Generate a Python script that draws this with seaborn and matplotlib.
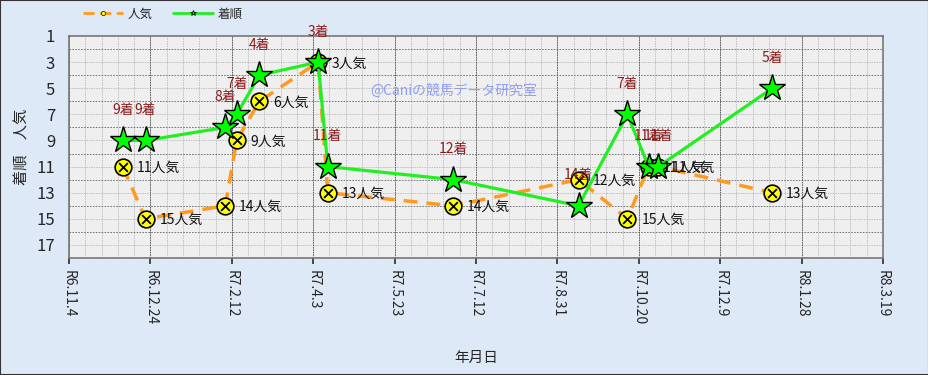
import matplotlib
matplotlib.use("Agg")
import matplotlib.pyplot as plt
import matplotlib.dates as mdates
from matplotlib.lines import Line2D
from matplotlib.patches import Rectangle
from matplotlib.ticker import FuncFormatter, FixedLocator
import seaborn as sns
import pandas as pd

# ---- data ----
race_dates = ["2024-12-07", "2024-12-21", "2025-02-08", "2025-02-15", "2025-03-01",
              "2025-04-06", "2025-04-12", "2025-06-28", "2025-09-13", "2025-10-13",
              "2025-10-26", "2025-11-01", "2026-01-10"]
chakujun = [9, 9, 8, 7, 4, 3, 11, 12, 14, 7, 11, 11, 5]   # 着順
ninki = [11, 15, 14, 9, 6, 3, 13, 14, 12, 15, 11, 11, 13]  # 人気
x_start = "2024-11-04"
x_end = "2026-03-19"

df = pd.DataFrame({"date": pd.to_datetime(race_dates), "chaku": chakujun, "ninki": ninki})

sns.set_theme(style="white")
plt.rcParams["font.family"] = ["Noto Sans CJK JP", "DejaVu Sans"]

fig = plt.figure(figsize=(9.29, 3.75), dpi=100, facecolor="#dde9f7")
ax = fig.add_axes([69 / 929, 1 - 258 / 375, (883 - 69) / 929, (258 - 36) / 375])
ax.set_facecolor("#efefef")

# grid
minor_ticks = pd.date_range(x_start, x_end, freq="10D")
major_ticks = pd.date_range(x_start, x_end, freq="50D")
for d in minor_ticks:
    ax.axvline(d, color="#ababab", lw=0.5, ls=(0, (2, 1.5)), zorder=0.5)
for d in major_ticks:
    ax.axvline(d, color="#555555", lw=0.6, ls=(0, (2, 1)), zorder=0.6)
for v in range(2, 18):
    even = v % 2 == 0
    ax.axhline(v, color="#666666" if even else "#ababab", lw=0.6 if even else 0.5,
               ls=(0, (2, 1.5)), zorder=0.5)

orange = "#ff9a1f"
green = "#22ee22"

# 人気 series
sns.lineplot(data=df, x="date", y="ninki", ax=ax, color=orange, lw=2.5, sort=False,
             marker="o", markersize=12, markerfacecolor="#ffff00", markeredgecolor="black",
             markeredgewidth=1.2, zorder=3)
ax.lines[-1].set_linestyle((0, (4, 2.6)))
sns.scatterplot(data=df, x="date", y="ninki", ax=ax, marker="x", s=40, color="black",
                linewidth=1.3, zorder=4)

# 着順 series
sns.lineplot(data=df, x="date", y="chaku", ax=ax, color=green, lw=2.3, sort=False,
             marker="*", markersize=20, markerfacecolor="#00ff00", markeredgecolor="black",
             markeredgewidth=1.0, zorder=5)

# labels
for d, c, n in zip(df["date"], df["chaku"], df["ninki"]):
    ax.annotate(f"{c}着", (d, c), xytext=(0, 22), textcoords="offset points",
                ha="center", va="center", fontsize=10, color="#8b1a1a", zorder=6)
    ax.annotate(f"{n}人気", (d, n), xytext=(10, -1), textcoords="offset points",
                ha="left", va="center", fontsize=10, color="#111111", zorder=6)

ax.set_xlim(pd.Timestamp(x_start), pd.Timestamp(x_end))
ax.set_ylim(18, 1)
ax.yaxis.set_major_locator(FixedLocator(list(range(1, 18, 2))))
ax.xaxis.set_major_locator(FixedLocator(mdates.date2num(major_ticks)))


def reiwa(v, pos):
    d = mdates.num2date(v)
    return f"R{d.year - 2018}.{d.month}.{d.day}"


ax.xaxis.set_major_formatter(FuncFormatter(reiwa))
ax.tick_params(axis="x", labelrotation=270, labelsize=10, length=4, color="#333333",
               direction="out", bottom=True, pad=5)
ax.tick_params(axis="y", labelsize=12, length=0, pad=10)
for lab in ax.get_xticklabels():
    lab.set_va("top")
    lab.set_ha("center")

ax.set_xlabel("年月日", fontsize=10.5, labelpad=18)
ax.set_ylabel("着順　人気", fontsize=11)
ax.yaxis.set_label_coords(-0.048, 0.5)

for s in ax.spines.values():
    s.set_color("#777777")
    s.set_linewidth(1.2)

# watermark
ax.text(0.472, 0.755, "@Caniの競馬データ研究室", transform=ax.transAxes, fontsize=10,
        color="#8f9ff0", ha="center", va="center", zorder=2)

# legend
handles = [
    Line2D([0], [0], color=orange, lw=2, ls=(0, (4, 2)), marker="o", markersize=3,
           markerfacecolor="#ffff00", markeredgecolor="black", markeredgewidth=0.5),
    Line2D([0], [0], color=green, lw=2, marker="*", markersize=4,
           markerfacecolor="#00ff00", markeredgecolor="black", markeredgewidth=0.5),
]
fig.legend(handles, ["人気", "着順"], loc="center", bbox_to_anchor=(163 / 929, 1 - 14 / 375),
           ncol=2, frameon=False, fontsize=9, handlelength=3.2, columnspacing=1.6,
           handletextpad=0.4)

fig.patches.append(Rectangle((0, 0), 1, 1, transform=fig.transFigure, fill=False,
                             edgecolor="#333333", lw=1.5))

fig.savefig("out.png", dpi=100, facecolor=fig.get_facecolor())
